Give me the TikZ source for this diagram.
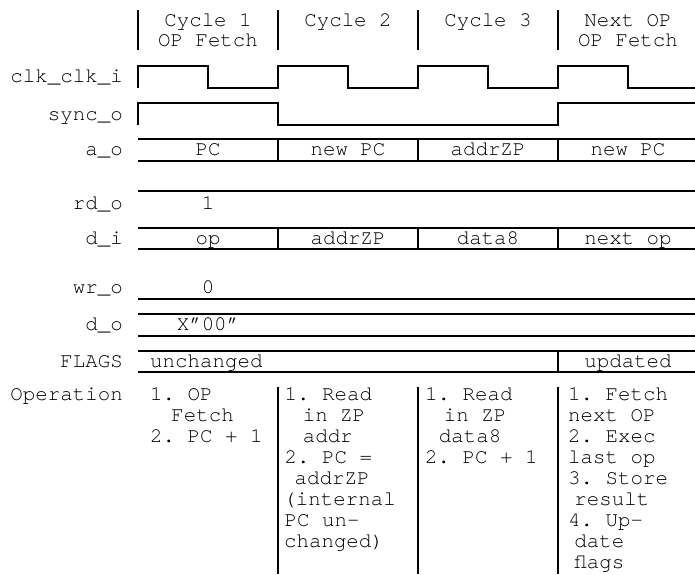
\documentclass[tikz,border=0pt]{standalone}
\usepackage{fontspec}
\setmainfont{texgyrecursor-regular.otf}
\frenchspacing
\newcommand\nudge[1]{\hspace*{#1\dimexpr 0.6em\relax}}

\begin{document}
\begin{tikzpicture}[x=1pt,y=-1pt]
\fontsize{20.8}{21}\selectfont
\tikzset{
    wave/.style={line width=1.4pt, line join=miter},
    sig/.style={anchor=base east, inner sep=0pt},
    val/.style={anchor=base, inner sep=0pt},
    op/.style={anchor=base west, inner sep=0pt},
}
\useasboundingbox (0,0) rectangle (695,574);
\def\X#1{138+140*#1} % left edge of cycle #1
\def\M#1{208+140*#1} % middle of cycle #1
\def\bus#1#2{\draw[wave] (\X{0},#1) -- (695,#1) (\X{0},#2) -- (695,#2);}

% Header bars and the cycle names.
\foreach \i in {0,...,3}
    \draw[wave] (\X{\i},10) -- (\X{\i},50);
\node[val] (cyc1)  at (\M{0},26) {Cycle 1};
\node[val] (cyc1b) at (\M{0},46) {OP Fetch};
\node[val] (cyc2)  at (\M{1},26) {Cycle 2};
\node[val] (cyc3)  at (\M{2},26) {Cycle 3};
\node[val] (cyc4)  at (\M{3},26) {Next OP};
\node[val] (cyc4b) at (\M{3},46) {OP Fetch};

% Signal names on the left.
\node[sig] (nclk)   at (123,82.5)  {clk\_clk\_i};
\node[sig] (nsync)  at (123,120)   {sync\_o};
\node[sig] (naddr)  at (123,155.5) {a\_o};
\node[sig] (nrd)    at (123,209)   {rd\_o};
\node[sig] (ndin)   at (123,244)   {d\_i};
\node[sig] (nwr)    at (123,293)   {wr\_o};
\node[sig] (ndout)  at (123,330.5) {d\_o};
\node[sig] (nflags) at (123,367)   {FLAGS};
\node[sig] (nop)    at (123,400.5) {Operation};

% Clock and sync.
\draw[wave] (\X{0},88) \foreach \i in {0,1,2} {-- ++(0,-22) -- ++(70,0) -- ++(0,22) -- ++(70,0)}
    -- ++(0,-22) -- ++(70,0) -- ++(0,22) -- (695,88);
\draw[wave] (\X{0},125) -- (\X{0},103) -- (\X{1},103) -- (\X{1},125)
    -- (\X{3},125) -- (\X{3},103) -- (695,103);

% Address bus.
\bus{139}{161}
\foreach \i in {1,2,3}
    \draw[wave] (\X{\i},139) -- (\X{\i},161);
\node[val] (a1) at (\M{0},155.5) {PC};
\node[val] (a2) at (\M{1},155.5) {new PC};
\node[val] (a3) at (\M{2},155.5) {addrZP};
\node[val] (a4) at (\M{3},155.5) {new PC};

% Read strobe, data in.
\draw[wave] (\X{0},191) -- (695,191);
\node[val] (rd1) at (\M{0},209) {1};
\bus{228}{249}
\foreach \i in {1,2,3}
    \draw[wave] (\X{\i},228) -- (\X{\i},249);
\node[val] (di1) at (\M{0},244) {op};
\node[val] (di2) at (\M{1},244) {addrZP};
\node[val] (di3) at (\M{2},244) {data8};
\node[val] (di4) at (\M{3},244) {next op};

% Write strobe, data out.
\draw[wave] (\X{0},299) -- (695,299);
\node[val] (wr1) at (\M{0},293) {0};
\bus{314}{336}
\node[val] (do1) at (\M{0},330.5) {X”00”};

% Flags.
\bus{351}{372}
\draw[wave] (\X{3},351) -- (\X{3},372);
\node[op]  (fl1) at (150,367)     {unchanged};
\node[val] (fl4) at (\M{3},367)   {updated};

% Operation, one line at a time.
\foreach \i in {1,2,3}
    \draw[wave] (\X{\i},387) -- (\X{\i},574);
\foreach \t [count=\k from 0] in {1. OP, \nudge{1.7}Fetch, 2. PC + 1}
    \node[op] (opA\k) at (150,400.5+21*\k) {\t};
\foreach \t [count=\k from 0] in {1. Read, \nudge{1.45}in ZP, \nudge{1.45}addr, 2. PC =,
        \nudge{0.8}addrZP, \nudge{-0.1}(internal, PC un-, \nudge{-0.05}changed)}
    \node[op] (opB\k) at (284.5,400.5+21*\k) {\t};
\foreach \t [count=\k from 0] in {1. Read, \nudge{1.5}in ZP, \nudge{1.1}data8, 2. PC + 1}
    \node[op] (opC\k) at (425,400.5+21*\k) {\t};
\foreach \t [count=\k from 0] in {1. Fetch, next OP, 2. Exec, last op, 3. Store,
        \nudge{0.5}result, 4. Up-, \nudge{0.5}date, \nudge{0.5}flags}
    \node[op] (opD\k) at (568,400.5+21*\k) {\t};
\end{tikzpicture}
\end{document}
